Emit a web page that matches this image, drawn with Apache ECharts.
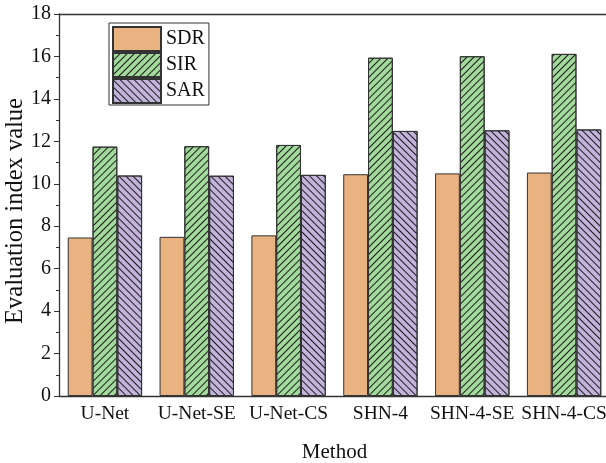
<!DOCTYPE html>
<html>
<head>
<meta charset="utf-8">
<script src="https://cdn.jsdelivr.net/npm/echarts@6/dist/echarts.min.js"></script>
<style>
  html, body { margin: 0; padding: 0; background: #fff; }
  #main { width: 606px; height: 463px; }
</style>
</head>
<body>
<div id="main"></div>
<script>
var methods = ["U-Net", "U-Net-SE", "U-Net-CS", "SHN-4", "SHN-4-SE", "SHN-4-CS"];
var sdr = [7.47, 7.5, 7.57, 10.45, 10.49, 10.53];
var sir = [11.75, 11.77, 11.83, 15.94, 16.01, 16.12];
var sar = [10.39, 10.38, 10.42, 12.49, 12.52, 12.56];

var font = "Liberation Serif, Times New Roman, serif";
var myChart = echarts.init(document.getElementById("main"));

var hatch = function (rot) {
  return {
    symbol: "rect",
    symbolSize: 1,
    color: "#1a1a1a",
    dashArrayX: [1, 0],
    dashArrayY: [1, 4],
    rotation: rot
  };
};

var option = {
  animation: false,
  textStyle: { fontFamily: font },
  grid: { left: 59, right: -4, top: 14, bottom: 67, outerBoundsMode: "none", containLabel: false },
  legend: {
    orient: "vertical",
    left: 109,
    top: 23,
    icon: "rect",
    itemWidth: 48,
    itemHeight: 24,
    itemGap: 0,
    padding: [3, 4, 1, 3],
    borderColor: "#333",
    borderWidth: 1,
    textStyle: { fontFamily: font, fontSize: 20, color: "#111" }
  },
  xAxis: [
    {
      type: "category",
      data: methods,
      position: "bottom",
      name: "Method",
      nameLocation: "middle",
      nameGap: 46,
      nameMoveOverlap: false,
      nameTextStyle: { fontFamily: font, fontSize: 21, color: "#111" },
      axisLine: { lineStyle: { color: "#333", width: 1.3 } },
      axisTick: { alignWithLabel: true, length: 6, lineStyle: { color: "#333" } },
      axisLabel: { interval: 0, fontFamily: font, fontSize: 19.5, color: "#111", margin: 8 }
    },
    {
      type: "category",
      data: methods,
      position: "bottom",
      axisLine: { show: false },
      axisTick: { length: 3, lineStyle: { color: "#333" } },
      axisLabel: { show: false }
    },
    {
      type: "category",
      data: methods,
      position: "top",
      axisLine: { lineStyle: { color: "#333", width: 1.3 } },
      axisTick: { alignWithLabel: true, inside: true, length: 6, lineStyle: { color: "#333" } },
      axisLabel: { show: false }
    },
    {
      type: "category",
      data: methods,
      position: "top",
      axisLine: { show: false },
      axisTick: { inside: true, length: 3, lineStyle: { color: "#333" } },
      axisLabel: { show: false }
    }
  ],
  yAxis: {
    type: "value",
    min: 0,
    max: 18,
    interval: 2,
    name: "Evaluation index value",
    nameLocation: "middle",
    nameGap: 31,
    nameMoveOverlap: false,
    nameTextStyle: { fontFamily: font, fontSize: 24.5, color: "#111", padding: [0, 12, 0, 0] },
    axisLine: { show: true, lineStyle: { color: "#333", width: 1.3 } },
    axisTick: { show: true, length: 5, lineStyle: { color: "#333" } },
    minorTick: { show: true, splitNumber: 2, length: 3, lineStyle: { color: "#333" } },
    splitLine: { show: false },
    axisLabel: { fontFamily: font, fontSize: 20, color: "#111", margin: 8 }
  },
  series: [
    {
      name: "SDR",
      type: "bar",
      data: sdr,
      barGap: "0%",
      barCategoryGap: "19%",
      itemStyle: { color: "#E9B281", borderColor: "#333", borderWidth: 1 }
    },
    {
      name: "SIR",
      type: "bar",
      data: sir,
      itemStyle: { color: "#A2DA9B", borderColor: "#333", borderWidth: 1, decal: hatch(-Math.PI / 4) }
    },
    {
      name: "SAR",
      type: "bar",
      data: sar,
      itemStyle: { color: "#C1B3DA", borderColor: "#333", borderWidth: 1, decal: hatch(Math.PI / 4) }
    }
  ]
};
myChart.setOption(option);
</script>
</body>
</html>
